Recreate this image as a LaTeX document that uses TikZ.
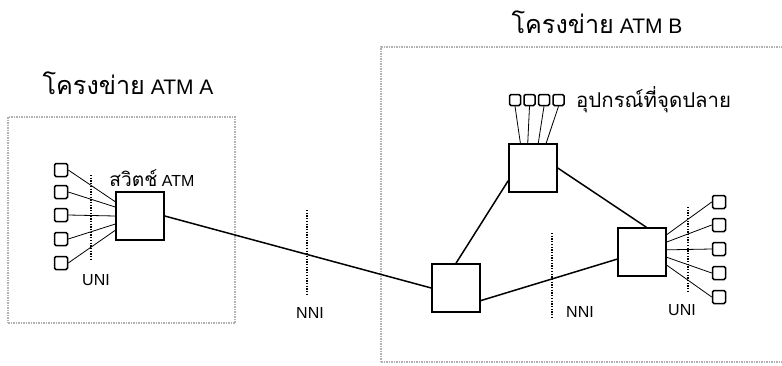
\documentclass[tikz,border=0pt]{standalone}
\usepackage{fontspec}
\setmainfont{Liberation Sans}
\newfontfamily\thaifont[Script=Thai,Scale=1.2]{Loma}
\usetikzlibrary{positioning,calc}

\begin{document}
\begin{tikzpicture}[
x=1pt,y=-1pt,
swstyle/.style={draw,line width=1.5pt,minimum size=48pt,inner sep=0pt},
termstyle/.style={draw,line width=1.5pt,minimum size=13pt,inner sep=0pt,rounded corners=1.5pt},
netstyle/.style={draw=gray!60,line width=1.5pt,densely dotted,inner sep=0pt},
link/.style={line width=1.5pt},
fan/.style={line width=0.8pt},
ifline/.style={line width=1.3pt,dash pattern=on 1.3pt off 1.4pt},
lbl/.style={font=\fontsize{16}{19}\selectfont,inner sep=0pt},
nettitle/.style={font=\fontsize{21}{24}\selectfont,inner sep=0pt}
]
\useasboundingbox (0,0) rectangle (782,365);

% network areas
\node[netstyle,minimum width=227pt,minimum height=206pt] (netA) at (121.5,220) {};
\node[netstyle,minimum width=412pt,minimum height=315pt] (netB) at (587,204.5) {};
\node[nettitle] (titleA) at (128,83) {{\thaifont โครงข่าย} ATM A};
\node[nettitle] (titleB) at (597,22) {{\thaifont โครงข่าย} ATM B};

% switches
\node[swstyle] (sA) at (140,216) {};
\node[swstyle] (sC) at (456,288) {};
\node[swstyle] (sD) at (642,252) {};
\node[swstyle] (sE) at (533,168) {};
\node[lbl] (swlabel) at (152,178) {{\thaifont สวิตช์} ATM};

% end devices
\foreach \i/\y in {1/170,2/192,3/215,4/239,5/263}
  \node[termstyle] (a\i) at (61,\y) {};
\foreach \i/\y in {1/202,2/225,3/249,4/273,5/297}
  \node[termstyle] (d\i) at (719,\y) {};
\foreach \i/\x in {1/515,2/529.5,3/544,4/558.5}
  \node[termstyle,minimum size=11pt] (e\i) at (\x,100) {};
\node[lbl,anchor=west,font=\fontsize{17}{20}\selectfont] (devlabel) at (576,100) {\thaifont อุปกรณ์ที่จุดปลาย};

\foreach \i/\a in {1/150,2/160,3/180,4/198,5/210}
  \draw[fan] (a\i.east) -- (sA.\a);
\foreach \i/\a in {1/35,2/22,3/5,4/348,5/332}
  \draw[fan] (sD.\a) -- (d\i.west);
\foreach \i/\a in {1/117,2/102,3/78,4/62}
  \draw[fan] (e\i.south) -- (sE.\a);

% trunk links
\draw[link] (sA.east) -- (sC.west);
\draw[link] (sC.north) -- (sE.207);
\draw[link] (sE.east) -- (sD.80);
\draw[link] (sC.333) -- (sD.196);

% interfaces
\draw[ifline] (91,175) -- (91,260);
\draw[ifline] (307,210) -- (307,295);
\draw[ifline] (552,233) -- (552,318);
\draw[ifline] (688,207) -- (688,292);
\node[lbl,anchor=west] (uniA) at (82,280) {UNI};
\node[lbl] (nniA) at (310,313) {NNI};
\node[lbl] (nniB) at (580,312) {NNI};
\node[lbl] (uniB) at (682,310) {UNI};
\end{tikzpicture}
\end{document}
